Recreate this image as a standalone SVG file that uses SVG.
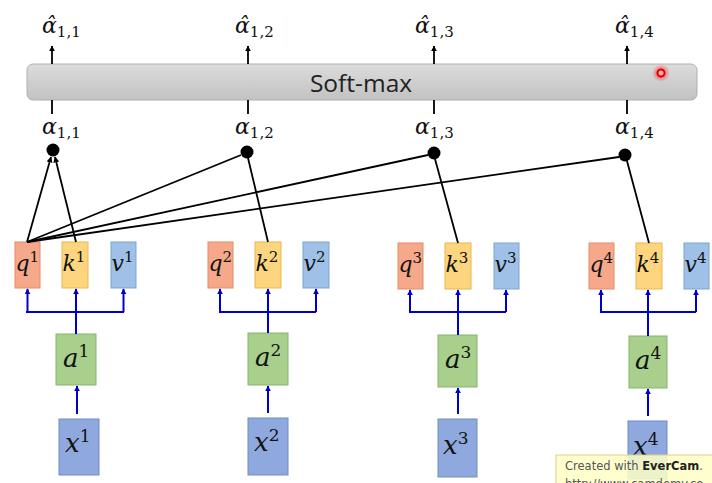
<svg xmlns="http://www.w3.org/2000/svg" width="712" height="483" viewBox="0 0 712 483">
<defs>
<linearGradient id="barg" x1="0" y1="0" x2="0" y2="1">
<stop offset="0" stop-color="#dcdcdc"/>
<stop offset="1" stop-color="#c2c2c2"/>
</linearGradient>
<radialGradient id="glow">
<stop offset="0.4" stop-color="#ff3030" stop-opacity="0.6"/>
<stop offset="1" stop-color="#ff3030" stop-opacity="0"/>
</radialGradient>
<marker id="ab" viewBox="0 0 10 10" refX="9" refY="5" markerWidth="6" markerHeight="6" markerUnits="userSpaceOnUse" orient="auto">
<path d="M0,0 L10,5 L0,10 z" fill="#0000cc"/>
</marker>
<marker id="ak" viewBox="0 0 10 10" refX="9" refY="5" markerWidth="6" markerHeight="6" markerUnits="userSpaceOnUse" orient="auto">
<path d="M0,0 L10,5 L0,10 z" fill="#000"/>
</marker>
</defs>
<style>
.m{font-family:"DejaVu Serif","Liberation Serif",serif;font-style:italic;fill:#111}
.m tspan{font-style:normal}
.lb{font-size:22px}
.lb tspan{font-size:15px}
.big{font-size:26px}
.big tspan{font-size:17px}
.al{font-size:22px}
.al tspan{font-size:15px}
.q{fill:#f6a98a;stroke:#e58a67;stroke-width:1}
.k{fill:#fdd57e;stroke:#f0b648;stroke-width:1}
.v{fill:#9fc1e8;stroke:#7aa3d6;stroke-width:1}
.a{fill:#a8cf8c;stroke:#86b36c;stroke-width:1}
.x{fill:#8fa9de;stroke:#6f8cc6;stroke-width:1}
.bl{stroke:#0000cc;stroke-width:2;fill:none}
.bk{stroke:#000;stroke-width:1.8;fill:none}
.dot{fill:#000}
</style>

<g id="softmax">
<rect x="27" y="64" width="670" height="36" rx="6" fill="url(#barg)" stroke="#b0b0b0"/>
<text x="361" y="92" text-anchor="middle" font-family="Open Sans, sans-serif" font-size="24.5" fill="#222">Soft-max</text>
</g>

<g id="pointer">
<circle cx="661" cy="73" r="9" fill="url(#glow)"/>
<circle cx="661" cy="73" r="3.5" fill="#ffb0a0" stroke="#e00000" stroke-width="2"/>
</g>

<g id="outputs">
<g id="ahat11"><text class="m al" x="42" y="33">α̂<tspan dy="4">1,1</tspan></text></g>
<g id="ahat12"><text class="m al" x="235" y="33">α̂<tspan dy="4">1,2</tspan></text></g>
<g id="ahat13"><text class="m al" x="415" y="33">α̂<tspan dy="4">1,3</tspan></text></g>
<g id="ahat14"><text class="m al" x="615" y="33">α̂<tspan dy="4">1,4</tspan></text></g>
</g>

<g id="alphas">
<g id="a11"><text class="m al" x="42" y="134">α<tspan dy="4">1,1</tspan></text><circle class="dot" cx="53" cy="150" r="6.5"/></g>
<g id="a12"><text class="m al" x="235" y="134">α<tspan dy="4">1,2</tspan></text><circle class="dot" cx="247" cy="152" r="6.5"/></g>
<g id="a13"><text class="m al" x="415" y="134">α<tspan dy="4">1,3</tspan></text><circle class="dot" cx="434" cy="153" r="6.5"/></g>
<g id="a14"><text class="m al" x="615" y="134">α<tspan dy="4">1,4</tspan></text><circle class="dot" cx="625" cy="155" r="6.5"/></g>
</g>

<g id="group1">
<g id="q1"><rect class="q" x="15" y="242" width="25" height="46"/><text class="m lb" x="15.5" y="271">q<tspan dy="-9">1</tspan></text></g>
<g id="k1"><rect class="k" x="62" y="242" width="26" height="46"/><text class="m lb" x="62.5" y="271">k<tspan dy="-9">1</tspan></text></g>
<g id="v1"><rect class="v" x="111" y="242" width="25" height="46"/><text class="m lb" x="111.5" y="271">v<tspan dy="-9">1</tspan></text></g>
<g id="a1"><rect class="a" x="56" y="334" width="40" height="51"/><text class="m big" x="63" y="367">a<tspan dy="-10">1</tspan></text></g>
<g id="x1"><rect class="x" x="59" y="419" width="40" height="56"/><text class="m big" x="65" y="452">x<tspan dy="-10">1</tspan></text></g>
</g>

<g id="group2">
<g id="q2"><rect class="q" x="208" y="242" width="25" height="46"/><text class="m lb" x="208.5" y="271">q<tspan dy="-9">2</tspan></text></g>
<g id="k2"><rect class="k" x="255" y="242" width="26" height="46"/><text class="m lb" x="255.5" y="271">k<tspan dy="-9">2</tspan></text></g>
<g id="v2"><rect class="v" x="303" y="242" width="26" height="46"/><text class="m lb" x="303.5" y="271">v<tspan dy="-9">2</tspan></text></g>
<g id="a2"><rect class="a" x="248" y="333" width="40" height="52"/><text class="m big" x="255" y="366">a<tspan dy="-10">2</tspan></text></g>
<g id="x2"><rect class="x" x="248" y="418" width="40" height="57"/><text class="m big" x="254" y="451">x<tspan dy="-10">2</tspan></text></g>
</g>

<g id="group3">
<g id="q3"><rect class="q" x="398" y="243" width="25" height="46"/><text class="m lb" x="398.5" y="272">q<tspan dy="-9">3</tspan></text></g>
<g id="k3"><rect class="k" x="445" y="243" width="26" height="46"/><text class="m lb" x="445.5" y="272">k<tspan dy="-9">3</tspan></text></g>
<g id="v3"><rect class="v" x="494" y="243" width="25" height="46"/><text class="m lb" x="494.5" y="272">v<tspan dy="-9">3</tspan></text></g>
<g id="a3"><rect class="a" x="438" y="335" width="39" height="52"/><text class="m big" x="445" y="368">a<tspan dy="-10">3</tspan></text></g>
<g id="x3"><rect class="x" x="438" y="419" width="39" height="58"/><text class="m big" x="443" y="454">x<tspan dy="-10">3</tspan></text></g>
</g>

<g id="group4">
<g id="q4"><rect class="q" x="589" y="243" width="25" height="46"/><text class="m lb" x="589.5" y="272">q<tspan dy="-9">4</tspan></text></g>
<g id="k4"><rect class="k" x="636" y="243" width="26" height="46"/><text class="m lb" x="636.5" y="272">k<tspan dy="-9">4</tspan></text></g>
<g id="v4"><rect class="v" x="684" y="243" width="25" height="46"/><text class="m lb" x="684.5" y="272">v<tspan dy="-9">4</tspan></text></g>
<g id="a4"><rect class="a" x="629" y="336" width="38" height="52"/><text class="m big" x="635" y="369">a<tspan dy="-10">4</tspan></text></g>
<g id="x4"><rect class="x" x="628" y="421" width="39" height="58"/><text class="m big" x="633" y="455">x<tspan dy="-10">4</tspan></text></g>
</g>

<g id="connectors">
<path class="bk" d="M52,64 V46" marker-end="url(#ak)" stroke-width="1.5"/>
<path class="bk" d="M248,64 V46" marker-end="url(#ak)" stroke-width="1.5"/>
<path class="bk" d="M434,64 V46" marker-end="url(#ak)" stroke-width="1.5"/>
<path class="bk" d="M627,64 V46" marker-end="url(#ak)" stroke-width="1.5"/>
<path class="bk" d="M52,100 V114 M248,100 V114 M434,100 V114 M627,100 V114" stroke-width="1.5"/>
<path class="bk" d="M27,242 L51,157" marker-end="url(#ak)"/>
<path class="bk" d="M76,242 L55,157" marker-end="url(#ak)"/>
<path class="bk" d="M27,242 L241,155"/>
<path class="bk" d="M268,242 L248,158"/>
<path class="bk" d="M27,242 L428,155"/>
<path class="bk" d="M458,243 L435,159"/>
<path class="bk" d="M27,242 L619,157"/>
<path class="bk" d="M649,243 L627,161"/>
<path class="bl" d="M26,312 H124"/>
<path class="bl" d="M27.5,312 V289" marker-end="url(#ab)"/>
<path class="bl" d="M123.5,312 V289" marker-end="url(#ab)"/>
<path class="bl" d="M76,334 V289" marker-end="url(#ab)"/>
<path class="bl" d="M77,414 V386" marker-end="url(#ab)"/>
<path class="bl" d="M219,312 H316"/>
<path class="bl" d="M220,312 V289" marker-end="url(#ab)"/>
<path class="bl" d="M316,312 V289" marker-end="url(#ab)"/>
<path class="bl" d="M268,333 V289" marker-end="url(#ab)"/>
<path class="bl" d="M268,413 V386" marker-end="url(#ab)"/>
<path class="bl" d="M409,312 H506"/>
<path class="bl" d="M410,312 V290" marker-end="url(#ab)"/>
<path class="bl" d="M506,312 V290" marker-end="url(#ab)"/>
<path class="bl" d="M458,335 V290" marker-end="url(#ab)"/>
<path class="bl" d="M458,414 V388" marker-end="url(#ab)"/>
<path class="bl" d="M600,312 H696"/>
<path class="bl" d="M601,312 V290" marker-end="url(#ab)"/>
<path class="bl" d="M696,312 V290" marker-end="url(#ab)"/>
<path class="bl" d="M648,336 V290" marker-end="url(#ab)"/>
<path class="bl" d="M648,416 V389" marker-end="url(#ab)"/>
</g>

<g id="watermark">
<rect x="556" y="455" width="170" height="40" fill="#ffffc4" fill-opacity="0.85" stroke="#d8d090"/>
<text x="565" y="470" font-family="DejaVu Sans, sans-serif" font-size="11.5" fill="#555">Created with <tspan font-weight="bold" fill="#222">EverCam</tspan>.</text>
<text x="565" y="488" font-family="DejaVu Sans, sans-serif" font-size="11.5" fill="#555">http://www.camdemy.co</text>
</g>
</svg>
